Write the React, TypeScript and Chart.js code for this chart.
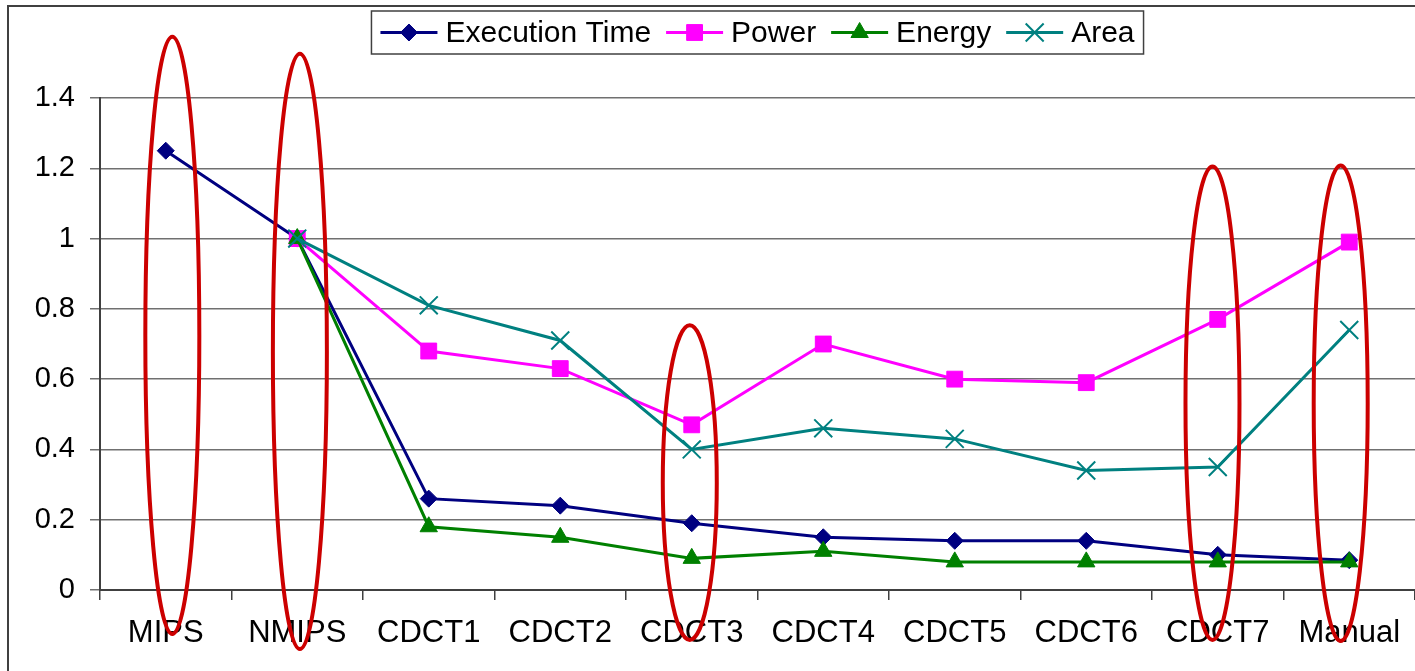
import React, { useEffect, useRef } from 'react';
import { Chart, registerables } from 'chart.js';

Chart.register(...registerables);

// ---- data ----
const categories = ['MIPS', 'NMIPS', 'CDCT1', 'CDCT2', 'CDCT3', 'CDCT4', 'CDCT5', 'CDCT6', 'CDCT7', 'Manual'];
const executionTime = [1.25, 1.0, 0.26, 0.24, 0.19, 0.15, 0.14, 0.14, 0.1, 0.085];
const power = [null, 1.0, 0.68, 0.63, 0.47, 0.7, 0.6, 0.59, 0.77, 0.99];
const energy = [null, 1.0, 0.18, 0.15, 0.09, 0.11, 0.08, 0.08, 0.08, 0.08];
const area = [null, 1.0, 0.81, 0.71, 0.4, 0.46, 0.43, 0.34, 0.35, 0.74];
const yTickLabels = ['0', '0.2', '0.4', '0.6', '0.8', '1', '1.2', '1.4'];

// highlighted design points: category, horizontal nudge (fraction of a category), vertical extent (axis units)
const ringCategories = ['MIPS', 'NMIPS', 'CDCT3', 'CDCT7', 'Manual'];
const ringNudge = [0.05, 0.02, -0.015, -0.04, -0.065];
const ringTop = [1.574, 1.526, 0.753, 1.205, 1.208];
const ringBottom = [-0.125, -0.168, -0.142, -0.142, -0.145];

const FONT = '"Liberation Sans", Arial, sans-serif';
const AXIS_DARK = '#404040';

type Marker = 'rectRot' | 'rect' | 'triangle' | 'crossRot';

function drawMarker(ctx: CanvasRenderingContext2D, style: Marker, x: number, y: number, r: number, color: string, bw: number) {
  ctx.save();
  ctx.fillStyle = color;
  ctx.strokeStyle = color;
  ctx.lineWidth = bw;
  ctx.beginPath();
  if (style === 'rectRot') {
    ctx.moveTo(x - r, y);
    ctx.lineTo(x, y - r);
    ctx.lineTo(x + r, y);
    ctx.lineTo(x, y + r);
    ctx.closePath();
    ctx.fill();
    ctx.stroke();
  } else if (style === 'rect') {
    const s = r * Math.SQRT1_2;
    ctx.rect(x - s, y - s, 2 * s, 2 * s);
    ctx.fill();
    ctx.stroke();
  } else if (style === 'triangle') {
    const a = (2 * Math.PI) / 3;
    ctx.moveTo(x, y - r);
    ctx.lineTo(x + Math.sin(a) * r, y - Math.cos(a) * r);
    ctx.lineTo(x + Math.sin(2 * a) * r, y - Math.cos(2 * a) * r);
    ctx.closePath();
    ctx.fill();
    ctx.stroke();
  } else {
    const s = r * Math.SQRT1_2;
    ctx.moveTo(x - s, y - s);
    ctx.lineTo(x + s, y + s);
    ctx.moveTo(x + s, y - s);
    ctx.lineTo(x - s, y + s);
    ctx.stroke();
  }
  ctx.restore();
}

const framePlugin = {
  id: 'frame',
  beforeDraw(chart: any) {
    const { ctx, width, height } = chart;
    ctx.save();
    ctx.fillStyle = '#ffffff';
    ctx.fillRect(0, 0, width, height);
    ctx.strokeStyle = AXIS_DARK;
    ctx.lineWidth = 2;
    ctx.beginPath();
    ctx.moveTo(8, height);
    ctx.lineTo(8, 6);
    ctx.lineTo(width, 6);
    ctx.stroke();
    ctx.restore();
  },
};

const ringsPlugin = {
  id: 'rings',
  afterDraw(chart: any) {
    const { ctx } = chart;
    const xs = chart.scales.x;
    const ys = chart.scales.y;
    ctx.save();
    ctx.strokeStyle = '#cc0000';
    ctx.lineWidth = 4;
    ringCategories.forEach((cat, i) => {
      const idx = categories.indexOf(cat) + ringNudge[i];
      const cx = xs.getPixelForValue(idx);
      const top = ys.getPixelForValue(ringTop[i]);
      const bottom = ys.getPixelForValue(ringBottom[i]);
      ctx.beginPath();
      ctx.ellipse(cx, (top + bottom) / 2, 27, (bottom - top) / 2, 0, 0, Math.PI * 2);
      ctx.stroke();
    });
    ctx.restore();
  },
};

const legendPlugin = {
  id: 'lineLegend',
  afterDraw(chart: any) {
    const { ctx, chartArea } = chart;
    const sample = 57;
    const gapText = 8;
    const gapItem = 15;
    const padX = 9;
    ctx.save();
    ctx.font = `30px ${FONT}`;
    const items = chart.data.datasets.map((ds: any) => ({
      label: ds.label as string,
      color: ds.borderColor as string,
      style: ds.pointStyle as Marker,
      r: ds.pointRadius as number,
      bw: ds.pointBorderWidth as number,
      w: ctx.measureText(ds.label).width,
    }));
    const content = items.reduce((s: number, it: any) => s + sample + gapText + it.w, 0) + gapItem * (items.length - 1);
    const boxW = content + padX * 2;
    const boxH = 43;
    const boxX = (chartArea.left + chartArea.right) / 2 - boxW / 2;
    const boxY = 11;
    ctx.fillStyle = '#ffffff';
    ctx.fillRect(boxX, boxY, boxW, boxH);
    ctx.strokeStyle = AXIS_DARK;
    ctx.lineWidth = 1.5;
    ctx.strokeRect(boxX, boxY, boxW, boxH);
    const cy = boxY + boxH / 2;
    let x = boxX + padX;
    items.forEach((it: any) => {
      ctx.strokeStyle = it.color;
      ctx.lineWidth = 3;
      ctx.beginPath();
      ctx.moveTo(x, cy);
      ctx.lineTo(x + sample, cy);
      ctx.stroke();
      drawMarker(ctx, it.style, x + sample / 2, cy, it.r, it.color, it.bw);
      ctx.fillStyle = '#000000';
      ctx.textBaseline = 'middle';
      ctx.textAlign = 'left';
      ctx.fillText(it.label, x + sample + gapText, cy + 1);
      x += sample + gapText + it.w + gapItem;
    });
    ctx.restore();
  },
};

function series(label: string, data: (number | null)[], color: string, style: Marker, r: number, bw: number, order: number) {
  return {
    label,
    data,
    borderColor: color,
    backgroundColor: color,
    borderWidth: 3,
    pointStyle: style,
    pointRadius: r,
    pointBorderWidth: bw,
    pointBackgroundColor: color,
    pointBorderColor: color,
    tension: 0,
    order,
  };
}

export default function App() {
  const canvasRef = useRef<HTMLCanvasElement | null>(null);

  useEffect(() => {
    if (!canvasRef.current) return;
    const chart = new Chart(canvasRef.current, {
      type: 'line',
      data: {
        labels: categories,
        datasets: [
          series('Execution Time', executionTime, '#000080', 'rectRot', 8.5, 1, 3),
          series('Power', power, '#ff00ff', 'rect', 11.2, 1, 2),
          series('Energy', energy, '#008000', 'triangle', 10, 1, 1),
          series('Area', area, '#008080', 'crossRot', 12.7, 2, 0),
        ] as any,
      },
      options: {
        responsive: false,
        animation: false,
        devicePixelRatio: 1,
        events: [],
        layout: { autoPadding: false, padding: { top: 98, left: 0, right: 0, bottom: 0 } },
        plugins: {
          legend: { display: false },
          tooltip: { enabled: false },
        },
        scales: {
          x: {
            type: 'category',
            offset: true,
            afterFit: (scale: any) => {
              scale.height = 81;
              scale.paddingLeft = 0;
              scale.paddingRight = 0;
            },
            grid: {
              display: true,
              drawOnChartArea: false,
              drawTicks: true,
              tickLength: 10,
              offset: true,
              color: AXIS_DARK,
              lineWidth: 1.5,
            },
            border: { display: true, color: AXIS_DARK, width: 2 },
            ticks: {
              color: '#000000',
              font: { family: FONT, size: 31 },
              padding: 15,
              maxRotation: 0,
              autoSkip: false,
            },
          },
          y: {
            type: 'linear',
            min: 0,
            max: 1.4,
            afterFit: (scale: any) => {
              scale.width = 100;
            },
            grid: {
              color: '#707070',
              lineWidth: 1.5,
              drawTicks: true,
              tickLength: 10,
            },
            border: { display: true, color: AXIS_DARK, width: 2 },
            ticks: {
              stepSize: 0.2,
              color: '#000000',
              font: { family: FONT, size: 29 },
              padding: 15,
              callback: (_v: any, i: number) => yTickLabels[i],
            },
          },
        },
      },
      plugins: [framePlugin, ringsPlugin, legendPlugin],
    });
    return () => chart.destroy();
  }, []);

  return (
    <div style={{ position: 'fixed', left: 0, top: 0, width: 1415, height: 671, background: '#ffffff' }}>
      <canvas ref={canvasRef} width={1415} height={671} style={{ display: 'block' }} />
    </div>
  );
}
